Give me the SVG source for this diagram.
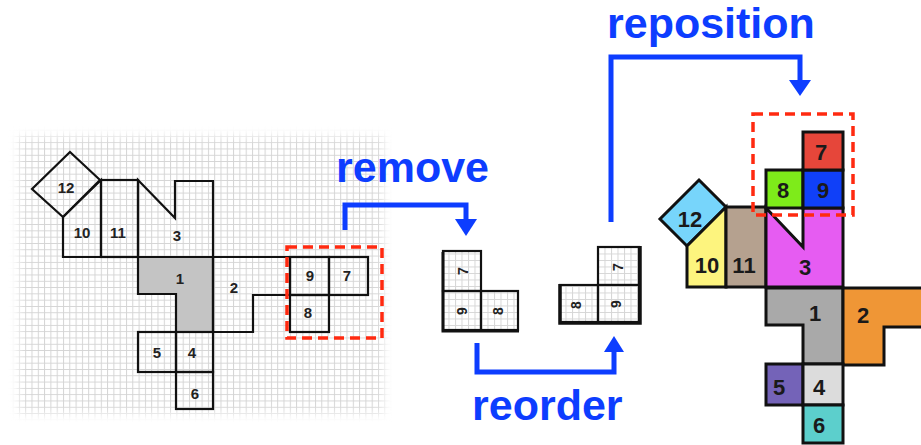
<svg xmlns="http://www.w3.org/2000/svg" width="921" height="445" viewBox="0 0 921 445">
  <defs>
    <pattern id="grid" x="12.6" y="129.6" width="6.3" height="6.3" patternUnits="userSpaceOnUse">
      <path d="M0 0.5H6.3M0.5 0V6.3" stroke="#d4d4d4" stroke-width="1" fill="none"/>
    </pattern>
    <pattern id="tilegrid" x="0" y="0" width="6.5" height="6.5" patternUnits="userSpaceOnUse">
      <path d="M0 0.5H6.5M0.5 0V6.5" stroke="#d6d6d6" stroke-width="1" fill="none"/>
    </pattern>
    <filter id="soft" x="-10%" y="-10%" width="120%" height="120%">
      <feGaussianBlur stdDeviation="5"/>
    </filter>
    <mask id="gridfade" maskUnits="userSpaceOnUse" x="0" y="110" width="410" height="330">
      <rect x="18" y="136" width="366" height="278" fill="#fff" filter="url(#soft)"/>
    </mask>
  </defs>
  <style>
    .pl { fill: none; stroke: #111; stroke-width: 2.2; stroke-linejoin: miter; }
    .pr { stroke: #111; stroke-width: 3; stroke-linejoin: miter; }
    .tile { fill: url(#tilegrid); stroke: #111; stroke-width: 2.2; }
    .nl { font-family: "Liberation Sans", Arial, sans-serif; font-weight: bold; font-size: 15px; fill: #222; text-anchor: middle; dominant-baseline: central; }
    .nr { font-family: "Liberation Sans", Arial, sans-serif; font-weight: bold; font-size: 22px; fill: #1a1a1a; text-anchor: middle; dominant-baseline: central; }
    .nt { font-family: "Liberation Sans", Arial, sans-serif; font-weight: bold; font-size: 14px; fill: #222; text-anchor: middle; dominant-baseline: central; }
    .lbl { font-family: "Liberation Sans", Arial, sans-serif; font-weight: bold; font-size: 43px; fill: #0d3dff; }
    .arr { fill: none; stroke: #0d3dff; stroke-width: 5; stroke-linejoin: miter; }
    .head { fill: #0d3dff; }
    .sel { fill: none; stroke: #ff2a10; stroke-width: 3.5; stroke-dasharray: 10 6; }
  </style>

  <!-- background grid of the original layout, softened at its edges -->
  <rect x="8" y="126" width="384" height="296" fill="url(#grid)" mask="url(#gridfade)"/>

  <!-- original layout -->
  <g id="left-12"><polygon class="pl" points="70,152 100,180 63,217 32,189"/><text class="nl" x="66" y="187">12</text></g>
  <g id="left-10"><polygon class="pl" points="63,217 101,180 101,257 63,257"/><text class="nl" x="82" y="232">10</text></g>
  <g id="left-11"><rect class="pl" x="101" y="180" width="37" height="77"/><text class="nl" x="118" y="232">11</text></g>
  <g id="left-3"><polygon class="pl" points="138,180 175,218 175,181 213,181 213,257 138,257"/><text class="nl" x="177" y="235">3</text></g>
  <g id="left-1"><polygon class="pl" style="fill:#c4c4c4" points="138,257 213,257 213,332 176,332 176,294 138,294"/><text class="nl" x="180" y="278">1</text></g>
  <g id="left-2"><polygon class="pl" points="213,257 290,257 290,295 253,295 253,332 213,332"/><text class="nl" x="234" y="287">2</text></g>
  <g id="left-9"><rect class="pl" x="290" y="257" width="39" height="38"/><text class="nl" x="310" y="275">9</text></g>
  <g id="left-7"><rect class="pl" x="329" y="257" width="39" height="38"/><text class="nl" x="347" y="275">7</text></g>
  <g id="left-8"><rect class="pl" x="290" y="295" width="39" height="37"/><text class="nl" x="308" y="312">8</text></g>
  <g id="left-5"><rect class="pl" x="138" y="332" width="38" height="40"/><text class="nl" x="157" y="352">5</text></g>
  <g id="left-4"><rect class="pl" x="176" y="332" width="37" height="40"/><text class="nl" x="192" y="352">4</text></g>
  <g id="left-6"><rect class="pl" x="176" y="372" width="37" height="37"/><text class="nl" x="195" y="393">6</text></g>
  <rect id="left-selection" class="sel" x="287" y="247" width="95" height="91"/>

  <!-- removed piece, turned a quarter turn -->
  <g id="removed-7"><rect class="tile" x="443" y="251" width="38" height="40"/><text class="nt" transform="translate(463,271) rotate(-90)">7</text></g>
  <g id="removed-9"><rect class="tile" x="443" y="291" width="38" height="39"/><text class="nt" transform="translate(462,311) rotate(-90)">9</text></g>
  <g id="removed-8"><rect class="tile" x="481" y="291" width="37" height="39"/><text class="nt" transform="translate(498,311) rotate(-90)">8</text></g>
  <path d="M443 252V331H519" fill="none" stroke="#111" stroke-width="3"/>

  <!-- reordered piece -->
  <g id="reordered-7"><rect class="tile" x="598" y="247" width="41" height="38"/><text class="nt" transform="translate(618,267) rotate(-90)">7</text></g>
  <g id="reordered-8"><rect class="tile" x="560" y="285" width="38" height="37"/><text class="nt" transform="translate(576,305) rotate(-90)">8</text></g>
  <g id="reordered-9"><rect class="tile" x="598" y="285" width="41" height="37"/><text class="nt" transform="translate(616,304) rotate(-90)">9</text></g>
  <path d="M560 284V323H640V246" fill="none" stroke="#111" stroke-width="3.5"/>

  <!-- final layout -->
  <g id="right-12"><polygon class="pr" fill="#77d5fb" points="699,180 726,207 687,246 660,219"/><text class="nr" x="690" y="219">12</text></g>
  <g id="right-10"><polygon class="pr" fill="#fdf47e" points="687,246 726,207 726,287 687,287"/><text class="nr" x="707" y="265">10</text></g>
  <g id="right-11"><rect class="pr" fill="#b5a18f" x="726" y="207" width="40" height="80"/><text class="nr" x="744" y="265">11</text></g>
  <g id="right-3"><polygon class="pr" fill="#e65cf2" points="766,208 803,247 803,208 843,208 843,287 766,287"/><text class="nr" x="805" y="267">3</text></g>
  <g id="right-8"><rect class="pr" fill="#7eeb1a" x="766" y="170" width="37" height="38"/><text class="nr" x="783" y="190">8</text></g>
  <g id="right-9"><rect class="pr" fill="#1040f8" x="803" y="170" width="40" height="38"/><text class="nr" x="823" y="190">9</text></g>
  <g id="right-7"><rect class="pr" fill="#e6463a" x="803" y="132" width="40" height="38"/><text class="nr" x="821" y="152">7</text></g>
  <g id="right-1"><polygon class="pr" fill="#a9a9a9" points="766,288 843,288 843,364 803,364 803,325 766,325"/><text class="nr" x="815" y="313">1</text></g>
  <g id="right-2"><polygon class="pr" fill="#ef9636" points="843,288 924,288 924,327 884,327 884,365 843,365"/><text class="nr" x="863" y="315">2</text></g>
  <g id="right-5"><rect class="pr" fill="#7463b8" x="766" y="364" width="37" height="41"/><text class="nr" x="779" y="387">5</text></g>
  <g id="right-4"><rect class="pr" fill="#dcdcdc" x="803" y="364" width="40" height="41"/><text class="nr" x="819" y="387">4</text></g>
  <g id="right-6"><rect class="pr" fill="#5ccfcc" x="803" y="405" width="40" height="38"/><text class="nr" x="819" y="425">6</text></g>
  <rect id="right-selection" class="sel" x="753" y="114" width="100" height="101"/>

  <!-- step connectors -->
  <g id="connectors">
    <path class="arr" d="M345 230V205H466V222"/>
    <polygon class="head" points="455,219 477,219 466,236"/>
    <path class="arr" d="M477 343V372H614V350"/>
    <polygon class="head" points="604,352 624,352 614,336"/>
    <path class="arr" d="M611 222V57H800V82"/>
    <polygon class="head" points="789,80 811,80 800,96"/>
  </g>

  <!-- step labels -->
  <text class="lbl" x="336" y="182">remove</text>
  <text class="lbl" x="472" y="420">reorder</text>
  <text class="lbl" x="607" y="38">reposition</text>
</svg>
